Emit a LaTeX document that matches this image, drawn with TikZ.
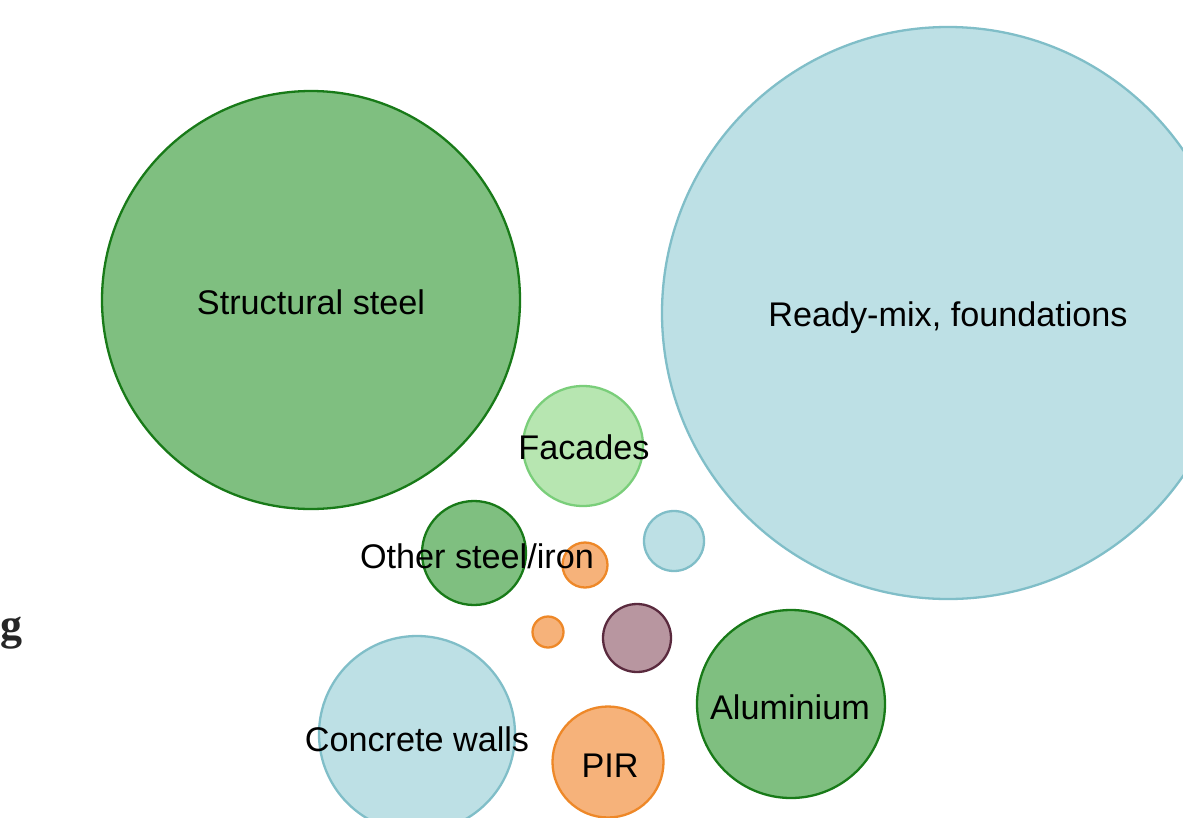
\documentclass[tikz,border=0pt]{standalone}
\usepackage{fontspec}
\setmainfont{Liberation Sans}
\newfontfamily\serifg{Liberation Serif}
\definecolor{gfill}{RGB}{127,191,128}
\definecolor{gline}{RGB}{24,122,24}
\definecolor{bfill}{RGB}{189,224,229}
\definecolor{bline}{RGB}{128,190,200}
\definecolor{lgfill}{RGB}{183,230,177}
\definecolor{lgline}{RGB}{122,206,122}
\definecolor{ofill}{RGB}{246,178,122}
\definecolor{oline}{RGB}{238,136,40}
\definecolor{pfill}{RGB}{184,150,160}
\definecolor{pline}{RGB}{90,42,62}
\tikzset{
  bub/.style={circle, inner sep=0pt, line width=2.3pt, minimum size=#1},
  green/.style={fill=gfill, draw=gline},
  blue/.style={fill=bfill, draw=bline},
  lgreen/.style={fill=lgfill, draw=lgline},
  orange/.style={fill=ofill, draw=oline},
  purple/.style={fill=pfill, draw=pline},
  lab/.style={text=black, inner sep=0pt, font=\fontsize{34.2}{40}\selectfont}
}
\begin{document}
\begin{tikzpicture}[x=1pt,y=-1pt]
\useasboundingbox (0,0) rectangle (1183,817);
\fill[white] (0,0) rectangle (1183,817);
\clip (0,0) rectangle (1183,817);
\node[bub=572pt, blue] (ready) at (948,313) {};
\node[bub=418pt, green] (struct) at (311,300) {};
\node[bub=120pt, lgreen] (fac) at (583,446) {};
\node[bub=104pt, green] (other) at (474,553) {};
\node[bub=45pt, orange] (o1) at (585,565) {};
\node[bub=60pt, blue] (b1) at (674,541) {};
\node[bub=31pt, orange] (o2) at (548,632) {};
\node[bub=68pt, purple] (pur) at (637,638) {};
\node[bub=196pt, blue] (conc) at (417,734) {};
\node[bub=111pt, orange] (pir) at (608,762) {};
\node[bub=188pt, green] (alu) at (791,704) {};
\node[lab] (lstruct) at (311,302) {Structural steel};
\node[lab] (lready) at (948,318) {Ready-mix, foundations};
\node[lab] (lfac) at (584,447) {Facades};
\node[lab] (lother) at (477,556) {Other steel/iron};
\node[lab] (lconc) at (417,739) {Concrete walls};
\node[lab] (lpir) at (610,766) {PIR};
\node[lab] (lalu) at (790,707) {Aluminium};
\node[text=black!85, inner sep=0pt, font=\serifg\bfseries\fontsize{44}{50}\selectfont] (g) at (12,633) {g};
\end{tikzpicture}
\end{document}
